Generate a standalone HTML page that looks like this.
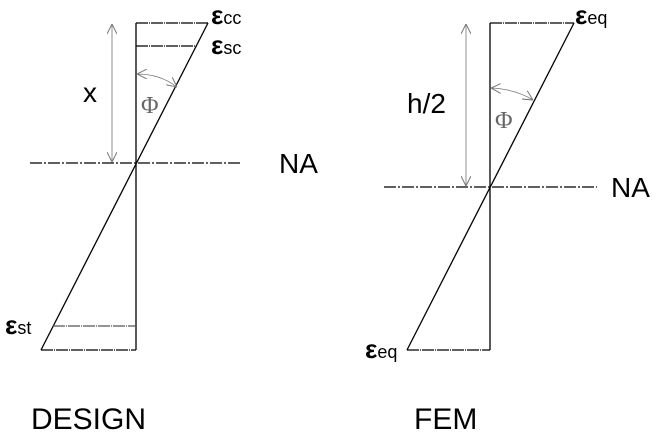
<!DOCTYPE html>
<html><head><style>html,body{margin:0;padding:0;background:#fff;}</style></head>
<body>
<svg width="659" height="441" viewBox="0 0 659 441" xmlns="http://www.w3.org/2000/svg" font-family="Liberation Sans, sans-serif">
<defs>
<marker id="a" viewBox="0 0 10 10" refX="10" refY="5" markerWidth="10" markerHeight="10" orient="auto-start-reverse" markerUnits="userSpaceOnUse">
<path d="M0,0 L10,5 L0,10" fill="none" stroke="#777" stroke-width="1"/></marker>
</defs>
<g stroke="#000" stroke-width="1.3" fill="none">
<line x1="136" y1="23" x2="136" y2="350"/>
<line x1="136" y1="23" x2="208" y2="23" stroke-dasharray="12,1,1,1"/>
<line x1="136" y1="46" x2="197" y2="46" stroke-dasharray="12,1,1,1"/>
<line x1="208" y1="23" x2="41" y2="350"/>
<line x1="41" y1="350" x2="136" y2="350" stroke-dasharray="12,1,1,1"/>
<line x1="53" y1="326" x2="136" y2="326" stroke="#555" stroke-dasharray="12,1,1,1"/>
<line x1="30" y1="163" x2="242" y2="163" stroke-dasharray="12,2,2,2"/>
<line x1="490" y1="23" x2="490" y2="350"/>
<line x1="490" y1="23" x2="574" y2="23" stroke-dasharray="12,1,1,1"/>
<line x1="574" y1="23" x2="407" y2="350"/>
<line x1="407" y1="350" x2="490" y2="350" stroke-dasharray="12,1,1,1"/>
<line x1="384" y1="187" x2="597" y2="187" stroke-dasharray="12,2,2,2"/>
</g>
<g stroke="#777" stroke-width="0.8" fill="none">
<line x1="112" y1="24" x2="112" y2="162" marker-start="url(#a)" marker-end="url(#a)"/>
<path d="M137,74 Q160,74 177,87" marker-start="url(#a)" marker-end="url(#a)"/>
<line x1="466" y1="24" x2="466" y2="186" marker-start="url(#a)" marker-end="url(#a)"/>
<path d="M491,88 Q515,89 533,100" marker-start="url(#a)" marker-end="url(#a)"/>
</g>
<g fill="#000">
<text x="211" y="24" font-size="26" font-weight="bold">ε<tspan font-size="18" font-weight="normal">cc</tspan></text>
<text x="211" y="54" font-size="26" font-weight="bold">ε<tspan font-size="18" font-weight="normal">sc</tspan></text>
<text x="5" y="334" font-size="26" font-weight="bold">ε<tspan font-size="18" font-weight="normal">st</tspan></text>
<text x="575" y="24" font-size="26" font-weight="bold">ε<tspan font-size="18" font-weight="normal">eq</tspan></text>
<text x="365" y="358" font-size="26" font-weight="bold">ε<tspan font-size="18" font-weight="normal">eq</tspan></text>
<text x="83" y="102" font-size="28">x</text>
<text x="407" y="113" font-size="28">h/2</text>
<text x="279" y="173" font-size="28">NA</text>
<text x="611" y="197" font-size="28">NA</text>
<text x="31" y="429" font-size="30">DESIGN</text>
<text x="414" y="429" font-size="30">FEM</text>
<text x="141" y="113" font-size="24" fill="#666" font-family="Liberation Serif, serif">Φ</text>
<text x="495" y="128" font-size="24" fill="#666" font-family="Liberation Serif, serif">Φ</text>
</g>
</svg>
</body></html>
